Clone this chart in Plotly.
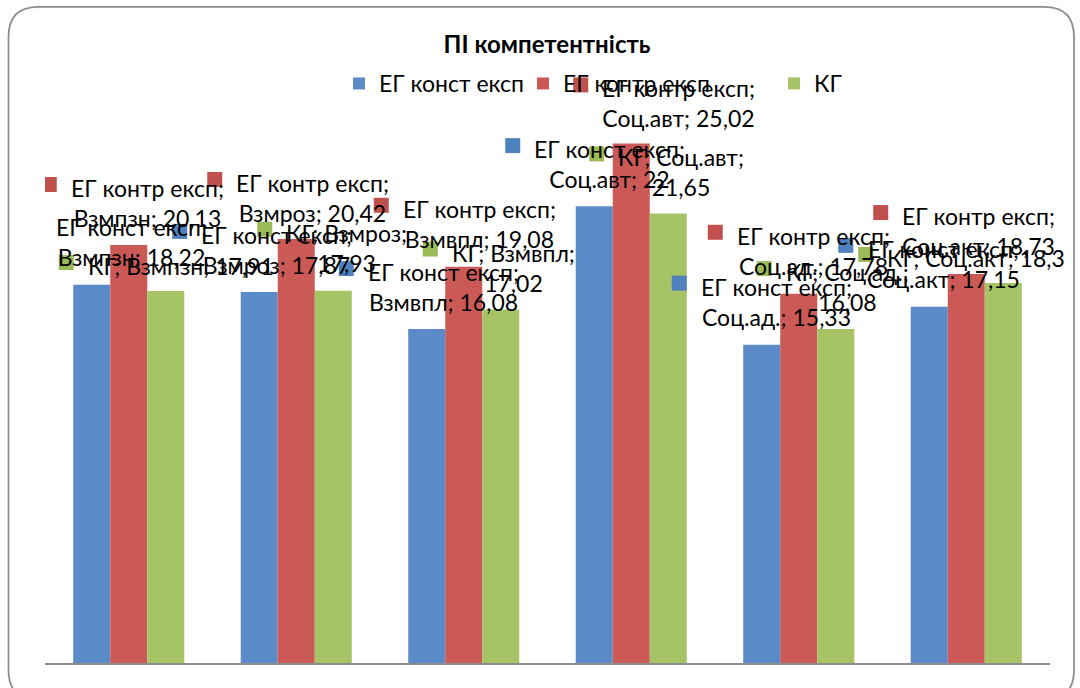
import plotly.graph_objects as go

# ---------------- data ----------------
categories = ["Взмпзн", "Взмроз", "Взмвпл", "Соц.авт", "Соц.ад.", "Соц.акт"]
series_names = ["ЕГ конст експ", "ЕГ контр експ", "КГ"]
eg_const = [18.22, 17.87, 16.08, 22, 15.33, 17.15]
eg_contr = [20.13, 20.42, 19.08, 25.02, 17.78, 18.73]
kg = [17.91, 17.93, 17.02, 21.65, 16.08, 18.3]
title_text = "ПІ компетентність"

# ---------------- style ----------------
bar_colors = ["#5A8BC8", "#CB5A57", "#A6C465"]
key_colors = ["#4F81BD", "#C0504D", "#9BBB59"]
FONT = "Lato, Carlito, 'Noto Sans', sans-serif"
W, H = 1080, 688
ML, MR, MT, MB = 45, 30, 40, 25
PW, PH = W - ML - MR, H - MT - MB
FS = 23

# label layout (pixel offsets of the key square from category centre / bar top)
label_offsets = [
    [(-102, -69), (-124, -68), (-125, -68), (-126, -68), (-127, -69), (-128, -69)],
    [(-87, -68), (-89, -67), (-90, -69), (-58, -66), (-91, -69), (-93, -69)],
    [(-70, -36), (-39, -69), (-41, -68), (-42, -67), (-42, -68), (-108, -36)],
]
# wrap mode: A = "series;" / "cat; val", B = "series; cat;" / "val", C = one line
label_wrap = [
    ["A"] * 6,
    ["A"] * 6,
    ["C", "B", "B", "B", "B", "C"],
]


def fmt(v):
    return f"{v:g}".replace(".", ",")


def label_text(name, cat, v, mode):
    if mode == "A":
        return f"{name};<br>{cat}; {fmt(v)}"
    if mode == "B":
        return f"{name}; {cat};<br>{fmt(v)}"
    return f"{name}; {cat}; {fmt(v)}"


def px2paper(px, py):
    return (px - ML) / PW, (H - MB - py) / PH


fig = go.Figure()
all_values = [eg_const, eg_contr, kg]
legend_ids = ["legend", "legend2", "legend3"]
for s, (name, vals) in enumerate(zip(series_names, all_values)):
    fig.add_trace(go.Bar(
        x=categories, y=vals, name=name,
        marker=dict(color=bar_colors[s], line=dict(width=0)),
        legend=legend_ids[s],
    ))

shapes = []
annotations = []
for s, (name, vals) in enumerate(zip(series_names, all_values)):
    for i, (cat, v) in enumerate(zip(categories, vals)):
        dx, dy = label_offsets[s][i]
        shapes.append(dict(
            type="rect", xref="x", yref="y",
            xsizemode="pixel", ysizemode="pixel",
            xanchor=cat, yanchor=v,
            x0=dx, x1=dx + 15, y0=-dy, y1=-dy - 15,
            fillcolor=key_colors[s], line=dict(width=0), layer="above",
        ))
        annotations.append(dict(
            xref="x", yref="y", x=cat, y=v,
            xanchor="left", yanchor="top", align="center",
            xshift=dx + 27, yshift=5 - dy,
            text=label_text(name, cat, v, label_wrap[s][i]),
            showarrow=False,
            font=dict(family=FONT, size=FS, color="#000000"),
        ))

# rounded chart frame
fx0, fy0, fx1, fy1, r = 8.5, 7, 1074, 700, 30


def P(px, py):
    x, y = px2paper(px, py)
    return f"{x:.5f},{y:.5f}"


path = (f"M{P(fx0 + r, fy0)} L{P(fx1 - r, fy0)} Q{P(fx1, fy0)} {P(fx1, fy0 + r)} "
        f"L{P(fx1, fy1 - r)} Q{P(fx1, fy1)} {P(fx1 - r, fy1)} "
        f"L{P(fx0 + r, fy1)} Q{P(fx0, fy1)} {P(fx0, fy1 - r)} "
        f"L{P(fx0, fy0 + r)} Q{P(fx0, fy0)} {P(fx0 + r, fy0)} Z")
shapes.append(dict(type="path", xref="paper", yref="paper", path=path,
                   line=dict(color="#8C8C8C", width=1.75), layer="below"))

legend_px = [339, 523, 774]
legend_common = dict(orientation="h", yanchor="top", xanchor="left",
                     font=dict(family=FONT, size=FS, color="#000000"),
                     bgcolor="rgba(0,0,0,0)", borderwidth=0)
lx = [px2paper(p, 62) for p in legend_px]

fig.update_layout(
    width=W, height=H,
    margin=dict(l=ML, r=MR, t=MT, b=MB),
    paper_bgcolor="white", plot_bgcolor="white",
    barmode="group", bargap=0.337, bargroupgap=0,
    showlegend=True,
    legend=dict(x=lx[0][0], y=lx[0][1], **legend_common),
    legend2=dict(x=lx[1][0], y=lx[1][1], **legend_common),
    legend3=dict(x=lx[2][0], y=lx[2][1], **legend_common),
    title=dict(text=f"<b>{title_text}</b>", x=(547 - ML) / PW, xref="paper",
               xanchor="center", y=1 - 36 / H, yanchor="top",
               font=dict(family=FONT, size=24, color="#000000")),
    xaxis=dict(showticklabels=False, ticks="", showgrid=False, zeroline=False,
               showline=True, linecolor="#8C8C8C", linewidth=2,
               range=[-0.5, 5.5]),
    yaxis=dict(range=[0, 30], visible=False, showgrid=False),
    shapes=shapes,
    annotations=annotations,
    font=dict(family=FONT),
)

fig.write_html("out.html",
               config={"displayModeBar": False},
               post_script="document.body.style.margin='0px';document.body.style.overflow='hidden';")
